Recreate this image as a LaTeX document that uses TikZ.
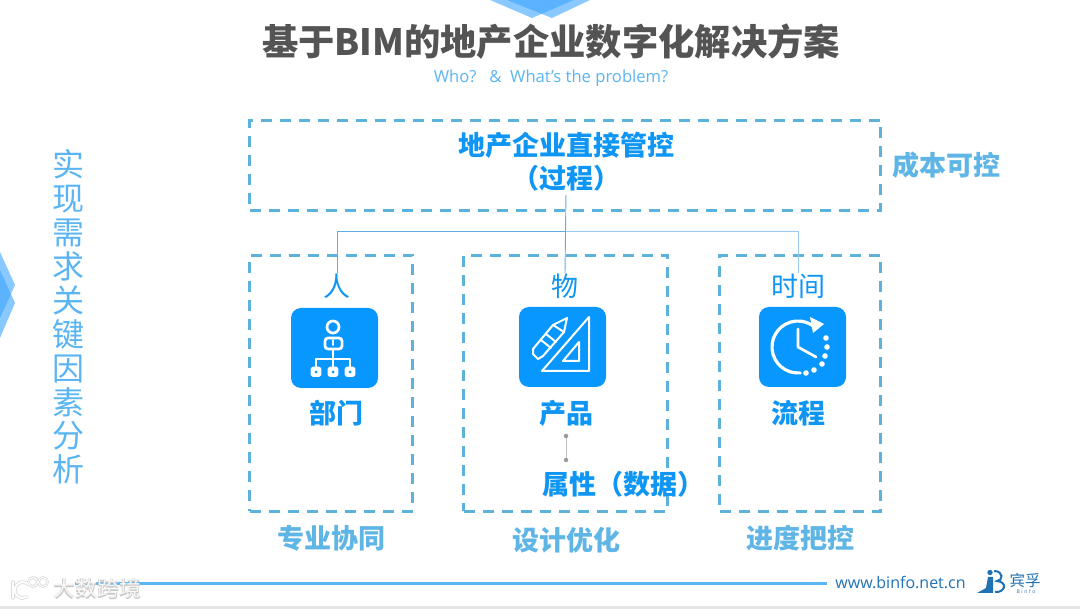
\documentclass[tikz,border=0pt]{standalone}
\usepackage{fontspec}
\setmainfont{Noto Sans CJK SC}
\newfontfamily\latinfont{Open Sans}
\definecolor{dashblue}{HTML}{5DB2DC}
\definecolor{headblue}{HTML}{0F96F5}
\definecolor{iconblue}{HTML}{0897FF}
\definecolor{softblue}{HTML}{5BB5F3}
\definecolor{sideblue}{HTML}{5FB6E6}
\definecolor{linkblue}{HTML}{62ACE2}
\definecolor{deepblue}{HTML}{1F72B4}
\definecolor{markblue}{HTML}{3CA5FF}
\tikzset{
  dashbox/.style={draw=dashblue,line width=3pt,dash pattern=on 11pt off 8pt,inner sep=0pt},
  headtext/.style={text=headblue,font=\fontsize{27}{33}\selectfont\bfseries,inner sep=0pt,align=center},
  kindtext/.style={text=headblue,font=\fontsize{27}{30}\selectfont,inner sep=0pt},
  sidetext/.style={text=sideblue,font=\fontsize{27}{30}\selectfont\bfseries,inner sep=0pt},
  iconbox/.style={fill=iconblue,rounded corners=10pt,inner sep=0pt,minimum width=87pt,minimum height=80pt},
  iconline/.style={draw=white,line width=2.7pt,line cap=round,line join=round},
  linkline/.style={draw=linkblue,line width=0.9pt},
  markfill/.style={fill=markblue,opacity=0.6},
}
\begin{document}
\begin{tikzpicture}[x=1pt,y=-1pt]
    \useasboundingbox (0,0) rectangle (1080,609);
    % corner marks
    \fill[white] (0,0) rectangle (1080,609);
    \fill[black,opacity=0.1] (0,606) rectangle (1080,609);
    \fill[markfill] (490,0)--(532,18)--(574,0)--cycle;
    \fill[markfill] (507,0)--(552,18)--(590,0)--cycle;
    \fill[markfill] (0,252)--(15,285)--(0,318)--cycle;
    \fill[markfill] (0,270)--(15,303)--(0,338)--cycle;
    % title
    \node[text=black!67,font=\fontsize{36.3}{40}\selectfont\bfseries,inner sep=0pt] (title) at (551,42) {基于BIM的地产企业数字化解决方案};
    \node[text=softblue,font=\fontsize{16.6}{20}\selectfont\latinfont,inner sep=0pt] (subtitle) at (551,78) {Who?\ \ \ \&\ \ What’s the problem?};
    \node[text=softblue,font=\fontsize{32}{33.9}\selectfont,align=center,inner sep=0pt] (factors) at (68,317) {实\\现\\需\\求\\关\\键\\因\\素\\分\\析};
    % dashed frames
    \node[dashbox,minimum width=631pt,minimum height=90pt] (topframe) at (565,165.5) {};
    \node[dashbox,minimum width=163pt,minimum height=256pt] (renframe) at (331,383.5) {};
    \node[dashbox,minimum width=204pt,minimum height=256pt] (wuframe) at (565.5,383.5) {};
    \node[dashbox,minimum width=161pt,minimum height=256pt] (timeframe) at (800,383.5) {};
    % labels
    \node[headtext] (control) at (566,162) {地产企业直接管控\\（过程）};
    \node[sidetext] (cost) at (946,165) {成本可控};
    \node[kindtext] (ren) at (337,286) {人};
    \node[kindtext] (wu) at (565,286) {物};
    \node[kindtext] (shijian) at (798,286) {时间};
    \node[headtext] (dept) at (336,413) {部门};
    \node[headtext] (product) at (566,413) {产品};
    \node[headtext] (process) at (798,413) {流程};
    \node[headtext] (attr) at (623,484) {属性（数据）};
    \node[sidetext] (major) at (331,538) {专业协同};
    \node[sidetext] (design) at (566,540) {设计优化};
    \node[sidetext] (schedule) at (800,538) {进度把控};
    % connectors
    \coordinate (joint) at (566,231);
    \draw[linkline,shorten <=3pt] (control.south) -- (wu.north);
    \draw[linkline] (joint) -| (ren.north);
    \draw[linkline,draw=linkblue!65] (joint) -| (shijian.north);
    \node[circle,fill=black!40,inner sep=0pt,minimum size=4.5pt] (dota) at (566,436) {};
    \node[circle,fill=black!40,inner sep=0pt,minimum size=4.5pt] (dotb) at (566,460) {};
    \draw[black!25,line width=0.9pt] (dota) -- (dotb);
    % people icon
    \node[iconbox] (iconren) at (334.5,348) {};
    \draw[iconline] (333,327) circle (6);
    \draw[iconline,rounded corners=3pt] (325,349)--(325,338)--(342,338)--(342,349)--cycle;
    \draw[iconline,line width=1.6pt] (333,340)--(333,345);
    \draw[iconline] (333,349)--(333,367);
    \draw[iconline] (316,367)--(316,359)--(350,359)--(350,367);
    \foreach \x in {316,333,350}
        \draw[iconline,fill=white,rounded corners=1pt] (\x-4,368) rectangle (\x+4,375.5);
    \foreach \x in {316,333,350}
        \fill[iconblue] (\x,372) circle (1.5);
    % product icon
    \node[iconbox] (iconwu) at (562.5,347) {};
    \draw[iconline,line width=2pt] (589,317)--(542,371)--(589,371)--cycle;
    \draw[iconline,line width=2pt] (579,342)--(563,361)--(579,361)--cycle;
    \draw[iconline,line width=2pt] (567,318)--(553,325)--(533,349)--(533,354)--(538,359)--(543,356)--(564,332)--cycle;
    \draw[iconline,line width=2pt] (553,325)--(564,332) (546,334)--(556,342) (541,340)--(551,348);
    % clock icon
    \node[iconbox] (icontime) at (802.5,347) {};
    \draw[iconline,line width=3.2pt] (798,347)++(85:26) arc[start angle=85,end angle=312,radius=26];
    \fill[white] (824,324)--(810,317)--(813,333)--cycle;
    \draw[iconline] (798,329)--(798,347)--(816,357);
    \foreach \x/\y in {826/338,827/347,825/356,822/364,814/370,806/373}
        \fill[white] (\x,\y) circle (2.8);
    % footer
    \coordinate (barstart) at (75,584);
    \coordinate (barend) at (827,584);
    \draw[softblue,line width=3pt] (barstart) -- (barend);
    \node[text=black!22,font=\fontsize{22}{24}\selectfont\bfseries,inner sep=0pt] (marksoft) at (97.5,589) {大数跨境};
    \node[text=white,opacity=0.85,font=\fontsize{22}{24}\selectfont,inner sep=0pt] (mark) at (97,588.5) {大数跨境};
    \draw[black!15,line width=3.5pt,line cap=round] (13,582)--(13,598);
    \draw[black!15,line width=3.5pt,line cap=round] (28,584) arc[start angle=-50,end angle=-300,radius=8];
    \draw[black!15,line width=2.6pt] (33,582) circle (4.5) (43,582) circle (4.5);
    \draw[white,line width=2pt,line cap=round] (13,582)--(13,598);
    \draw[white,line width=2pt,line cap=round] (28,584) arc[start angle=-50,end angle=-300,radius=8];
    \draw[white,line width=1pt] (33,582) circle (4.5) (43,582) circle (4.5);
    \node[text=deepblue,font=\fontsize{16}{20}\selectfont\latinfont,inner sep=0pt] (site) at (900.5,582) {www.binfo.net.cn};
    \fill[deepblue] (977,593)--(986,588)--(988,577)--(993,577)--(993,593)--cycle;
    \fill[deepblue] (990,572.5) circle (2.7);
    \draw[deepblue,line width=2pt] (994,571) .. controls (1004,571) and (1003,581) .. (997,581) .. controls (1008,582) and (1005,593) .. (995,592);
    \node[text=deepblue,font=\fontsize{15.5}{16}\selectfont,inner sep=0pt] (brand) at (1025,581) {宾孚};
    \node[text=deepblue,font=\fontsize{5}{6}\selectfont\latinfont,inner sep=0pt] (brandsub) at (1026,592) {B\,\,i\,\,n\,\,f\,\,o};
\end{tikzpicture}
\end{document}
